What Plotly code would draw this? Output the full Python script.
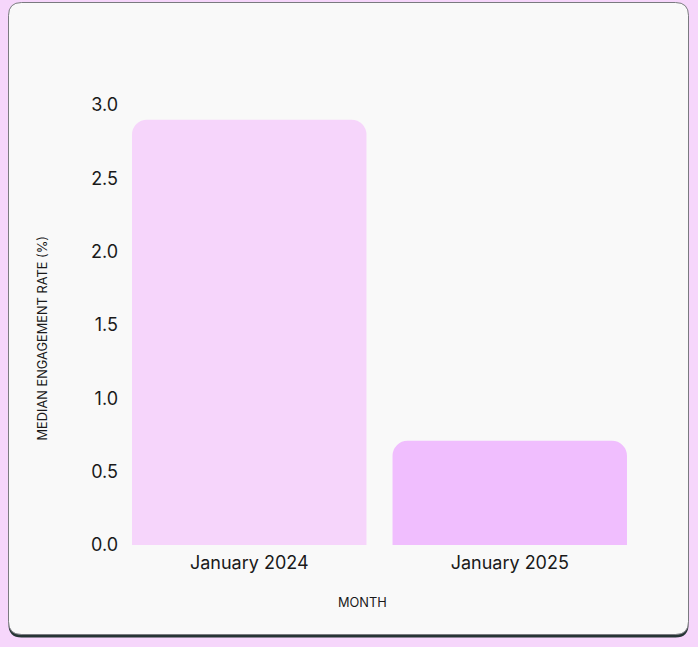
import plotly.graph_objects as go

months = ["January 2024", "January 2025"]
engagement = [2.90, 0.71]
bar_colors = ["#f6d5fb", "#f0befe"]
y_ticks = [0.0, 0.5, 1.0, 1.5, 2.0, 2.5, 3.0]
y_tick_text = ["0.0", "0.5", "1.0", "1.5", "2.0", "2.5", "3.0"]
x_title = "MONTH"
y_title = "MEDIAN ENGAGEMENT RATE (%)"

W, H = 698, 647
L, R, T, B = 119, 58, 105, 102
pw, ph = W - L - R, H - T - B

def px(x):
    return (x - L) / pw

def py(y):
    return (H - B - y) / ph

def rrect(x0, y0, x1, y1, r):
    # rounded rect path in paper coords from pixel coords
    pts = [
        f"M {px(x0 + r)},{py(y0)}",
        f"L {px(x1 - r)},{py(y0)}",
        f"Q {px(x1)},{py(y0)} {px(x1)},{py(y0 + r)}",
        f"L {px(x1)},{py(y1 - r)}",
        f"Q {px(x1)},{py(y1)} {px(x1 - r)},{py(y1)}",
        f"L {px(x0 + r)},{py(y1)}",
        f"Q {px(x0)},{py(y1)} {px(x0)},{py(y1 - r)}",
        f"L {px(x0)},{py(y0 + r)}",
        f"Q {px(x0)},{py(y0)} {px(x0 + r)},{py(y0)}",
        "Z",
    ]
    return " ".join(pts)

FONT = "Inter"
TXT = "#1a1a1a"

fig = go.Figure(
    go.Bar(
        x=months,
        y=engagement,
        marker=dict(color=bar_colors, line=dict(width=0), cornerradius=15),
        hoverinfo="x+y",
    )
)

fig.update_layout(
    width=W,
    height=H,
    margin=dict(l=L, r=R, t=T, b=B, autoexpand=False),
    paper_bgcolor="#f6d6fb",
    plot_bgcolor="rgba(0,0,0,0)",
    bargap=0.1,
    showlegend=False,
    font=dict(family=FONT, color=TXT),
    shapes=[
        dict(type="path", xref="paper", yref="paper", layer="below",
             path=rrect(8.5, 5.5, 688.5, 637.5, 13),
             fillcolor="#263535", line=dict(width=0)),
        dict(type="path", xref="paper", yref="paper", layer="below",
             path=rrect(8.5, 2.5, 688.5, 634.5, 13),
             fillcolor="#f9f9f9", line=dict(color="#7a7a80", width=1)),
    ],
    annotations=[
        dict(text=x_title, xref="paper", yref="paper", x=px(362), y=py(602),
             xanchor="center", yanchor="middle", showarrow=False,
             font=dict(size=12.8, family=FONT, color=TXT)),
        dict(text=y_title, xref="paper", yref="paper", x=px(42), y=py(338.5),
             xanchor="center", yanchor="middle", showarrow=False, textangle=-90,
             font=dict(size=12.8, family=FONT, color=TXT)),
    ],
)

fig.update_xaxes(
    showgrid=False, showline=False, zeroline=False, ticks="",
    tickfont=dict(size=18, family=FONT, color=TXT),
    ticklabelstandoff=5,
    automargin=False, fixedrange=True,
)
fig.update_yaxes(
    range=[0, 3.0], showgrid=False, showline=False, zeroline=False, ticks="",
    tickvals=y_ticks, ticktext=y_tick_text,
    tickfont=dict(size=18, family=FONT, color=TXT),
    automargin=False, fixedrange=True,
)

fig.write_html(
    "out.html",
    config={"displayModeBar": False},
    post_script="document.body.style.margin='0';document.body.style.background='#f6d6fb';",
)
